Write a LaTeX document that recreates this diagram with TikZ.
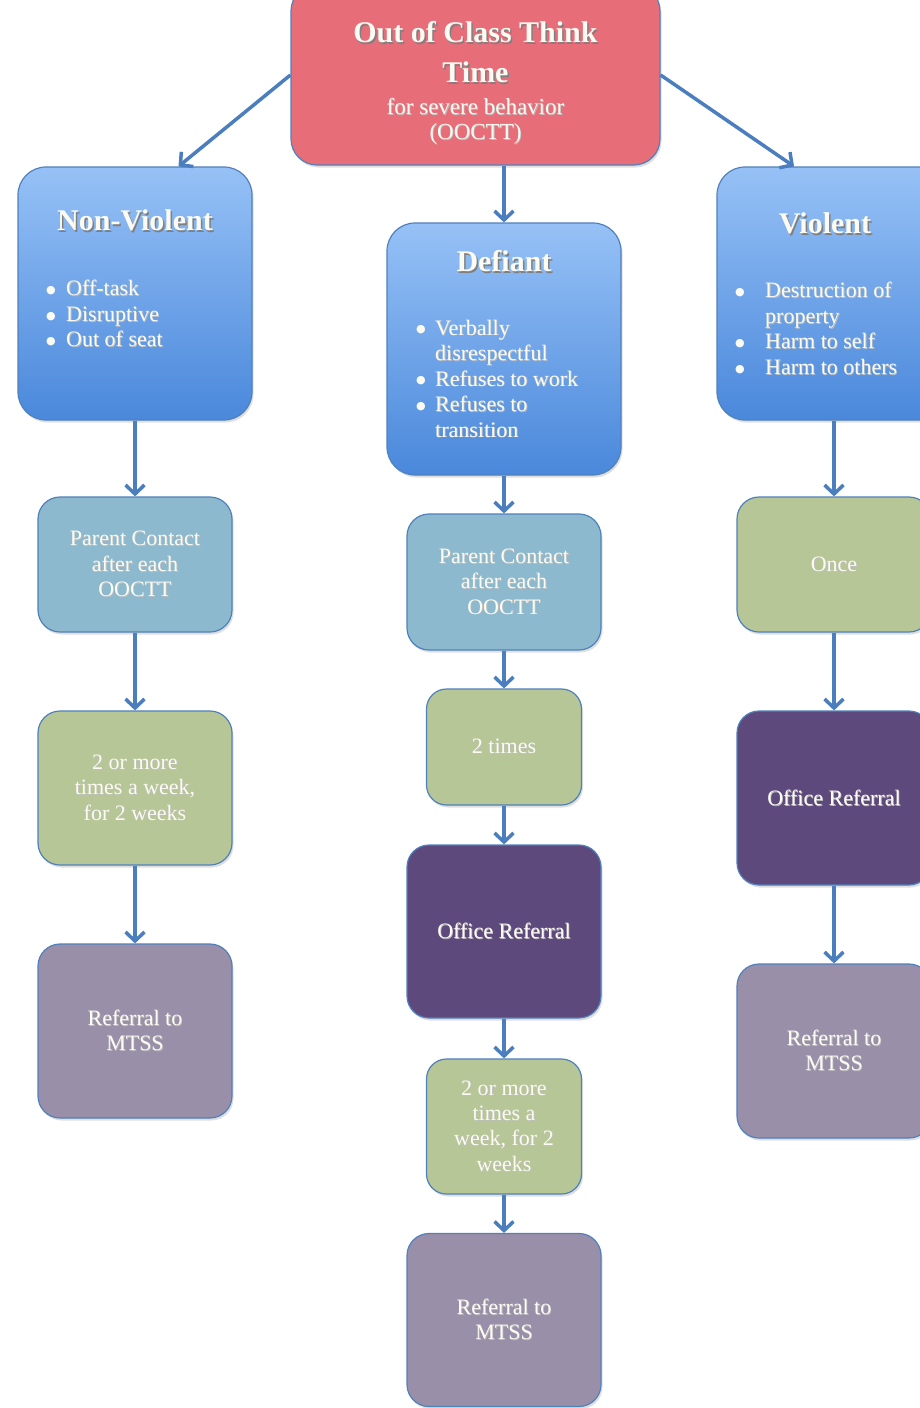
\documentclass[tikz,border=0pt]{standalone}
\usepackage{fontspec}
\setmainfont{Liberation Serif}
\newfontfamily\symf{DejaVu Sans}
\usetikzlibrary{arrows.meta,shadows,calc}
\definecolor{redbox}{RGB}{231,110,121}
\definecolor{bluetop}{RGB}{150,193,246}
\definecolor{bluebot}{RGB}{74,136,219}
\definecolor{tealbox}{RGB}{140,185,205}
\definecolor{greenbox}{RGB}{183,198,150}
\definecolor{darkpurple}{RGB}{94,73,124}
\definecolor{graypurple}{RGB}{154,143,168}
\definecolor{edge}{RGB}{79,129,189}
\definecolor{arrowc}{RGB}{74,126,190}
\definecolor{txtc}{RGB}{251,251,243}
\newcommand\shd[1]{\makebox[0pt][l]{\hspace{1.5pt}\raisebox{-1.8pt}{\textcolor{black!50}{#1}}}#1}
\newcommand\lsh[1]{\makebox[0pt][l]{\hspace{0.8pt}\raisebox{-0.8pt}{\textcolor{black!25}{#1}}}#1}
\newcommand\bul[1]{\makebox[#1][l]{\raisebox{2.2pt}{\symf\fontsize{11}{13}\selectfont ●}}}
\tikzset{
  bw/.style={minimum width=#1},
  bh/.style={minimum height=#1},
  box/.style={draw=edge, line width=1.2pt, rounded corners=22pt, inner sep=0pt,
    text=txtc, align=center, font=\fontsize{22}{25.4}\selectfont,
    drop shadow={shadow xshift=1.5pt, shadow yshift=-2.5pt, opacity=0.25}},
  bluebox/.style={box, top color=bluetop, bottom color=bluebot},
  titletxt/.style={text=txtc, font=\bfseries\fontsize{30}{40}\selectfont, align=center, inner sep=0pt},
  subtxt/.style={text=txtc, font=\fontsize{23}{25}\selectfont, align=center, inner sep=0pt},
  listtxt/.style={text=txtc, font=\fontsize{22}{25.5}\selectfont, align=left, inner sep=0pt, anchor=west},
  conn/.style={draw=arrowc, line width=3.5pt, -{Straight Barb[length=9pt,width=19pt,line width=3.5pt]}}
}
\begin{document}
\begin{tikzpicture}[x=1pt,y=-1pt]
\useasboundingbox (0,0) rectangle (920,1408);
\clip (0,0) rectangle (920,1408);
\fill[white] (0,0) rectangle (920,1408);
% top
\node[box, fill=redbox, bw=369pt, bh=180pt, rounded corners=26pt] (top) at (475.5,75) {};
\node[titletxt] (topT) at (475.5,53) {\shd{Out of Class Think}\\\shd{Time}};
\node[subtxt] (topS) at (475.5,122) {\lsh{for severe behavior}\\\lsh{(OOCTT)}};
% category boxes
\node[bluebox, bw=234pt, bh=253pt, rounded corners=28pt] (nv) at (135,293.5) {};
\node[titletxt] (nvT) at (135,221) {\shd{Non-Violent}};
\node[listtxt] (nvL) at (46,314) {\bul{20pt}\lsh{Off-task}\\\bul{20pt}\lsh{Disruptive}\\\bul{20pt}\lsh{Out of seat}};
\node[bluebox, bw=234pt, bh=252pt, rounded corners=28pt] (def) at (504,349) {};
\node[titletxt] (defT) at (504,262) {\shd{Defiant}};
\node[listtxt] (defL) at (416,379) {\bul{19pt}\lsh{Verbally}\\\hspace*{19pt}\lsh{disrespectful}\\\bul{19pt}\lsh{Refuses to work}\\\bul{19pt}\lsh{Refuses to}\\\hspace*{19pt}\lsh{transition}};
\node[bluebox, bw=234pt, bh=253pt, rounded corners=28pt] (vio) at (834,293.5) {};
\node[titletxt] (vioT) at (825,224) {\shd{Violent}};
\node[listtxt] (vioL) at (735,329) {\bul{30pt}\lsh{Destruction of}\\\hspace*{30pt}\lsh{property}\\\bul{30pt}\lsh{Harm to self}\\\bul{30pt}\lsh{Harm to others}};
% left column
\node[box, fill=tealbox, bw=194pt, bh=135pt] (lpc) at (135,564.5) {\lsh{Parent Contact}\\\lsh{after each}\\\lsh{OOCTT}};
\node[box, fill=greenbox, bw=194pt, bh=154pt] (lg) at (135,788) {\lsh{2 or more}\\\lsh{times a week,}\\\lsh{for 2 weeks}};
\node[box, fill=graypurple, bw=194pt, bh=174pt] (lm) at (135,1031) {\lsh{Referral to}\\\lsh{MTSS}};
% middle column
\node[box, fill=tealbox, bw=194pt, bh=136pt] (mpc) at (504,582) {\lsh{Parent Contact}\\\lsh{after each}\\\lsh{OOCTT}};
\node[box, fill=greenbox, bw=155pt, bh=116pt, rounded corners=20pt] (m2) at (504,747) {\lsh{2 times}};
\node[box, fill=darkpurple, bw=194pt, bh=173pt] (mo) at (504,931.5) {\lsh{Office Referral}};
\node[box, fill=greenbox, bw=155pt, bh=135pt, rounded corners=20pt] (mg) at (504,1126.5) {\lsh{2 or more}\\\lsh{times a}\\\lsh{week, for 2}\\\lsh{weeks}};
\node[box, fill=graypurple, bw=194pt, bh=173pt] (mm) at (504,1320) {\lsh{Referral to}\\\lsh{MTSS}};
% right column
\node[box, fill=greenbox, bw=194pt, bh=135pt] (ro) at (834,564.5) {\lsh{Once}};
\node[box, fill=darkpurple, bw=194pt, bh=174pt] (roff) at (834,798) {\lsh{Office Referral}};
\node[box, fill=graypurple, bw=194pt, bh=174pt] (rm) at (834,1051) {\lsh{Referral to}\\\lsh{MTSS}};
% connectors
\draw[conn] (top.west) -- ($(nv.north west)!0.685!(nv.north east)$);
\draw[conn] (top.east) -- ($(vio.north west)!0.33!(vio.north east)$);
\draw[conn] (top.south -| def.north) -- (def.north);
\draw[conn] (nv.south) -- (lpc.north);
\draw[conn] (lpc.south) -- (lg.north);
\draw[conn] (lg.south) -- (lm.north);
\draw[conn] (def.south) -- (mpc.north);
\draw[conn] (mpc.south) -- (m2.north);
\draw[conn] (m2.south) -- (mo.north);
\draw[conn] (mo.south) -- (mg.north);
\draw[conn] (mg.south) -- (mm.north);
\draw[conn] (vio.south) -- (ro.north);
\draw[conn] (ro.south) -- (roff.north);
\draw[conn] (roff.south) -- (rm.north);
\end{tikzpicture}
\end{document}
